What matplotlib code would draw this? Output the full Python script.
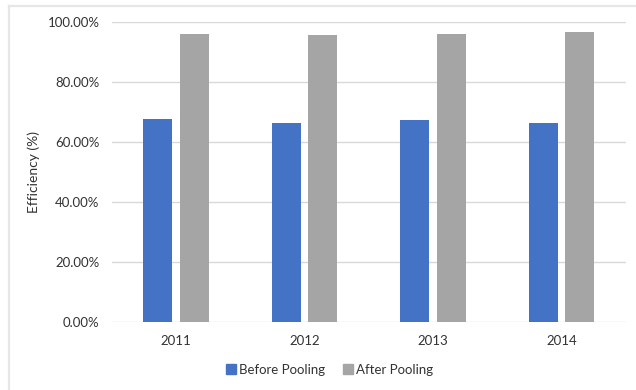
import matplotlib.pyplot as plt
from matplotlib.lines import Line2D
from matplotlib.ticker import FuncFormatter
import numpy as np

plt.rcParams['font.family'] = ['Lato', 'DejaVu Sans']

# данные
years = ["2011", "2012", "2013", "2014"]
before_pooling = [67.8, 66.3, 67.6, 66.6]
after_pooling = [96.0, 95.8, 96.2, 96.7]

text_color = "#333333"
x = np.arange(len(years))
w = 0.225

fig = plt.figure(figsize=(6.36, 3.9), dpi=100)
ax = fig.add_axes([0.176, 0.1736, 0.808, 0.7692])

ax.bar(x - 0.142, before_pooling, w, color="#4472C4", label="Before Pooling", zorder=3)
ax.bar(x + 0.142, after_pooling, w, color="#A5A5A5", label="After Pooling", zorder=3)

ax.set_xlim(-0.5, 3.5)
ax.set_ylim(0, 100)
ax.set_yticks(np.arange(0, 101, 20))
ax.yaxis.set_major_formatter(FuncFormatter(lambda v, p: f"{v:.2f}%"))
ax.set_xticks(x)
ax.set_xticklabels(years)
ax.grid(axis="y", color="#d9d9d9", linewidth=1, zorder=0)
ax.tick_params(axis="both", length=0, labelsize=9.5, colors=text_color)
ax.tick_params(axis="y", pad=9)
ax.tick_params(axis="x", pad=9)
for s in ax.spines.values():
    s.set_visible(False)
ax.set_ylabel("Efficiency (%)", fontsize=10, color=text_color, labelpad=5)

handles = [Line2D([], [], marker="s", linestyle="none", markersize=7, color=c)
           for c in ("#4472C4", "#A5A5A5")]
fig.legend(handles, ["Before Pooling", "After Pooling"], loc="center",
           bbox_to_anchor=(0.517, 0.051), ncol=2, frameon=False,
           fontsize=9.5, labelcolor=text_color, handletextpad=0.1,
           columnspacing=1.2, handlelength=1.0)

# рамка диаграммы
fig.add_artist(Line2D([9 / 636, 1], [1 - 5.5 / 390] * 2, color="#e6e6e6", linewidth=1.6))
fig.add_artist(Line2D([9 / 636] * 2, [0, 1 - 5.5 / 390], color="#e6e6e6", linewidth=1.6))

fig.savefig("out.png", dpi=100)
